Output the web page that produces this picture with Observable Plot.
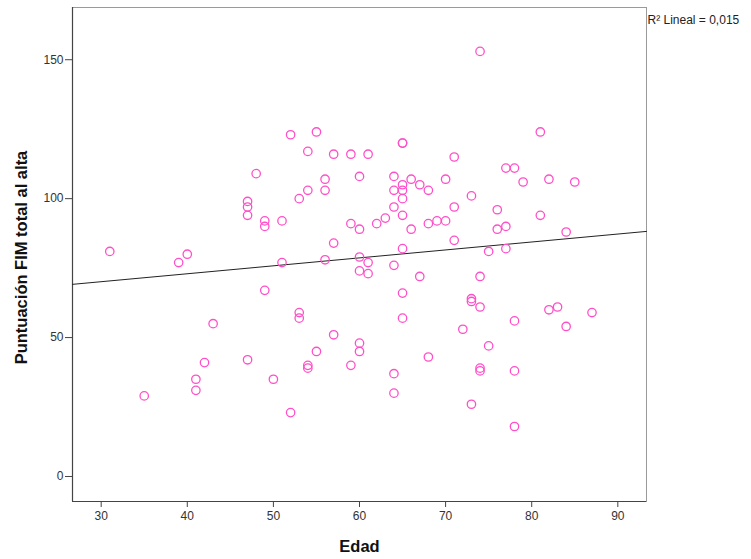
<!DOCTYPE html>
<html>
<head>
<meta charset="utf-8">
<script src="https://cdn.jsdelivr.net/npm/d3@7"></script>
<script src="https://cdn.jsdelivr.net/npm/@observablehq/plot@0.6"></script>
<style>
  html, body { margin: 0; padding: 0; background: #fff; }
  #chart svg { display: block; }
</style>
</head>
<body>
<div id="chart"></div>
<script>
// Edad (age) and Puntuación FIM total al alta
const edad = [
  31, 35, 39, 40, 41, 41, 42, 43, 47, 47, 47, 47, 48, 49, 49, 49, 50, 51, 51, 52,
  52, 53, 53, 53, 54, 54, 54, 54, 55, 55, 56, 56, 56, 57, 57, 57, 59, 59, 59, 60,
  60, 60, 60, 60, 60, 61, 61, 61, 62, 63, 64, 64, 64, 64, 64, 64, 65, 65, 65, 65,
  65, 65, 65, 65, 65, 66, 66, 67, 67, 68, 68, 68, 69, 70, 70, 71, 71, 71, 72, 73,
  73, 73, 73, 74, 74, 74, 74, 74, 75, 75, 76, 76, 77, 77, 77, 78, 78, 78, 78, 79,
  81, 81, 82, 82, 83, 84, 84, 85, 87
];
const fim = [
  81, 29, 77, 80, 35, 31, 41, 55, 99, 97, 94, 42, 109, 92, 90, 67, 35, 92, 77, 123,
  23, 100, 59, 57, 117, 103, 40, 39, 124, 45, 107, 103, 78, 116, 84, 51, 116, 91, 40, 108,
  89, 79, 74, 48, 45, 116, 77, 73, 91, 93, 108, 103, 97, 76, 37, 30, 120, 120, 105, 103,
  100, 94, 82, 66, 57, 107, 89, 105, 72, 103, 91, 43, 92, 107, 92, 115, 97, 85, 53, 101,
  64, 63, 26, 153, 72, 61, 39, 38, 81, 47, 96, 89, 111, 90, 82, 111, 56, 38, 18, 106,
  124, 94, 107, 60, 61, 88, 54, 106, 59
];
const xTicks = [30, 40, 50, 60, 70, 80, 90];
const yTicks = [0, 50, 100, 150];
const xTitle = "Edad";
const yTitle = "Puntuación FIM total al alta";
const fitLabel = "R² Lineal = 0,015";

const xDomain = [26.67, 93.33];
const yDomain = [-9, 168.8];

const points = edad.map((e, i) => ({edad: e, fim: fim[i]}));

// least-squares fit drawn across the whole frame
const mx = d3.mean(edad), my = d3.mean(fim);
const slope = d3.sum(points, d => (d.edad - mx) * (d.fim - my)) / d3.sum(points, d => (d.edad - mx) ** 2);
const intercept = my - slope * mx;
const fitLine = xDomain.map(x => ({edad: x, fim: intercept + slope * x}));

const chart = Plot.plot({
  width: 751,
  height: 559,
  marginLeft: 72,
  marginRight: 105,
  marginTop: 7,
  marginBottom: 58,
  style: {fontFamily: "'Liberation Sans', Arial, sans-serif", background: "#fff", color: "#333"},
  x: {domain: xDomain},
  y: {domain: yDomain},
  marks: [
    Plot.frame({stroke: "#9a9a9a", strokeWidth: 1}),
    Plot.ruleX([xDomain[0]], {stroke: "#444", strokeWidth: 1.2}),
    Plot.ruleY([yDomain[0]], {stroke: "#444", strokeWidth: 1.2}),
    Plot.axisX({ticks: xTicks, tickSize: 6, tickPadding: 4, fontSize: 12, label: null, stroke: "#444", fill: "#333"}),
    Plot.axisY({ticks: yTicks, tickSize: 7, tickPadding: 2, fontSize: 12, label: null, stroke: "#444", fill: "#333"}),
    Plot.line(fitLine, {x: "edad", y: "fim", stroke: "#222", strokeWidth: 1}),
    Plot.dot(points, {x: "edad", y: "fim", r: 4.2, stroke: "#ff4fc8", strokeWidth: 1.3, fill: "none"}),
    Plot.text([xTitle], {frameAnchor: "bottom", textAnchor: "middle", lineAnchor: "middle", dy: 45, fontSize: 16.5, fontWeight: "bold", fill: "#111"}),
    Plot.text([yTitle], {frameAnchor: "left", textAnchor: "middle", lineAnchor: "middle", rotate: -90, dx: -51, dy: 3, fontSize: 16.5, fontWeight: "bold", fill: "#111"}),
    Plot.text([fitLabel], {frameAnchor: "top-right", textAnchor: "start", lineAnchor: "middle", dx: 1, dy: 13, fontSize: 12, fill: "#222"})
  ]
});
document.getElementById("chart").appendChild(chart);
</script>
</body>
</html>
